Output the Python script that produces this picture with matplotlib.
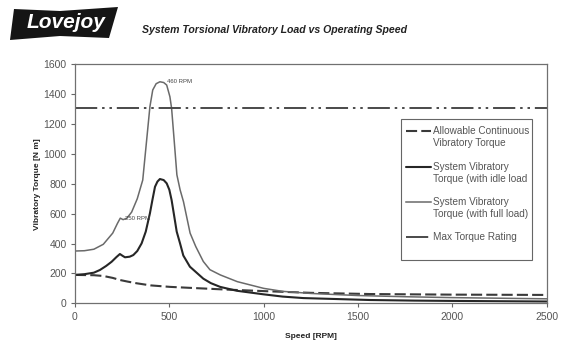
import matplotlib
matplotlib.use("Agg")
import matplotlib.pyplot as plt
from matplotlib.patches import Polygon, Rectangle
from matplotlib.lines import Line2D

plt.rcParams["font.family"] = ["Liberation Sans", "DejaVu Sans"]
plt.rcParams["lines.scale_dashes"] = False

# ---- data -------------------------------------------------------------
full_rpm = [0, 50, 100, 150, 200, 225, 240, 255, 275, 300, 330, 359, 378,
            397, 412, 430, 450, 470, 486, 503, 512, 525, 540, 557, 575,
            610, 640, 680, 715, 770, 860, 1000, 1100, 1250, 1500, 1750,
            2000, 2250, 2500]
full_torque = [350, 352, 362, 395, 470, 535, 570, 560, 570, 610, 700, 825,
               1070, 1316, 1428, 1470, 1483, 1478, 1461, 1383, 1305, 1100,
               860, 760, 680, 470, 380, 280, 225, 190, 145, 100, 80, 66, 52,
               44, 38, 34, 30]

idle_rpm = [0, 50, 100, 132, 165, 194, 220, 238, 252, 265, 290, 309, 330,
            353, 375, 397, 410, 424, 437, 450, 470, 486, 500, 512, 525, 539,
            557, 574, 609, 680, 720, 769, 857, 1000, 1100, 1210, 1400, 1564,
            1800, 2000, 2250, 2500]
idle_torque = [190, 195, 205, 223, 250, 278, 310, 330, 318, 308, 312, 323,
               350, 401, 480, 602, 690, 780, 815, 832, 825, 803, 760, 691,
               590, 480, 400, 320, 245, 165, 135, 110, 84, 60, 45, 35, 28, 22,
               18, 16, 14, 12]

allow_rpm = [0, 100, 150, 200, 238, 280, 327, 400, 503, 600, 800, 1033,
             1250, 1564, 2000, 2500]
allow_torque = [190, 188, 183, 170, 156, 145, 134, 120, 110, 104, 92, 80,
                70, 62, 58, 56]

max_rpm = [0, 2500]
max_torque = [1310, 1310]

peak_labels = [(488, 1483, "460 RPM"), (265, 571, "250 RPM")]

x_ticks = [0, 500, 1000, 1500, 2000, 2500]
y_ticks = [0, 200, 400, 600, 800, 1000, 1200, 1400, 1600]

legend_labels = ["Allowable Continuous\nVibratory Torque",
                 "System Vibratory\nTorque (with idle load",
                 "System Vibratory\nTorque (with full load)",
                 "Max Torque Rating"]

# ---- styles -----------------------------------------------------------
W, H = 565, 341
allow_style = dict(color="#3a3a3a", lw=1.5, dashes=(8, 3))
idle_style = dict(color="#262626", lw=1.5, solid_capstyle="round")
full_style = dict(color="#6a6a6a", lw=1.1)
max_style = dict(color="#4a4a4a", lw=1.4, dashes=(16, 3.5, 1.8, 3.5, 1.8, 3.5))

fig = plt.figure(figsize=(W / 100, H / 100), dpi=100)
fig.patch.set_facecolor("white")


def fx(x):
    return x / W


def fy(y):
    return 1 - y / H


ax = fig.add_axes([fx(75), fy(303.3), (546.7 - 75) / W, (303.3 - 64.3) / H])

ax.plot(allow_rpm, allow_torque, **allow_style)
ax.plot(full_rpm, full_torque, **full_style)
ax.plot(idle_rpm, idle_torque, **idle_style)
ax.plot(max_rpm, max_torque, **max_style)

for rx, ry, txt in peak_labels:
    ax.text(rx, ry, txt, fontsize=4.3, color="#444", va="center", ha="left")

ax.set_xlim(0, 2500)
ax.set_ylim(0, 1600)
ax.set_xticks(x_ticks)
ax.set_yticks(y_ticks)
ax.tick_params(direction="out", length=3, width=0.8, colors="#666",
               labelsize=7.5, labelcolor="#555", pad=3)
for s in ax.spines.values():
    s.set_color("#707070")
    s.set_linewidth(0.9)

ax.set_xlabel("Speed [RPM]", fontsize=6, fontweight="bold", color="#222",
              labelpad=8)
ax.set_ylabel("Vibratory Torque [N m]", fontsize=6, fontweight="bold",
              color="#222", labelpad=2)

# ---- legend box -------------------------------------------------------
fig.add_artist(Rectangle((fx(401), fy(260)), (532 - 401) / W, (260 - 119) / H,
                         transform=fig.transFigure, facecolor="white",
                         edgecolor="#666", lw=0.8))
handle_styles = [allow_style, idle_style, full_style, max_style]
handle_y = [131, 167, 202, 237]
for style, hy, lab in zip(handle_styles, handle_y, legend_labels):
    fig.add_artist(Line2D([fx(406), fx(431)], [fy(hy), fy(hy)],
                          transform=fig.transFigure, **style))
    for i, line in enumerate(lab.split("\n")):
        fig.text(fx(433), fy(hy + 12 * i), line, fontsize=7.2, color="#555",
                 va="center", ha="left")

# ---- header -----------------------------------------------------------
logo = Polygon([(fx(14), fy(9)), (fx(60), fy(11)), (fx(118), fy(7)),
                (fx(109), fy(38)), (fx(60), fy(36)), (fx(10), fy(40))],
               closed=True, transform=fig.transFigure, facecolor="#151515",
               edgecolor="none")
fig.add_artist(logo)
fig.text(fx(66), fy(23), "Lovejoy", fontsize=15, fontweight="bold",
         fontstyle="italic", color="white", ha="center", va="center")
fig.text(fx(142), fy(30), "System Torsional Vibratory Load vs Operating Speed",
         fontsize=7.6, fontweight="bold", fontstyle="italic", color="#222",
         ha="left", va="center")

fig.savefig("out.png", dpi=100)
